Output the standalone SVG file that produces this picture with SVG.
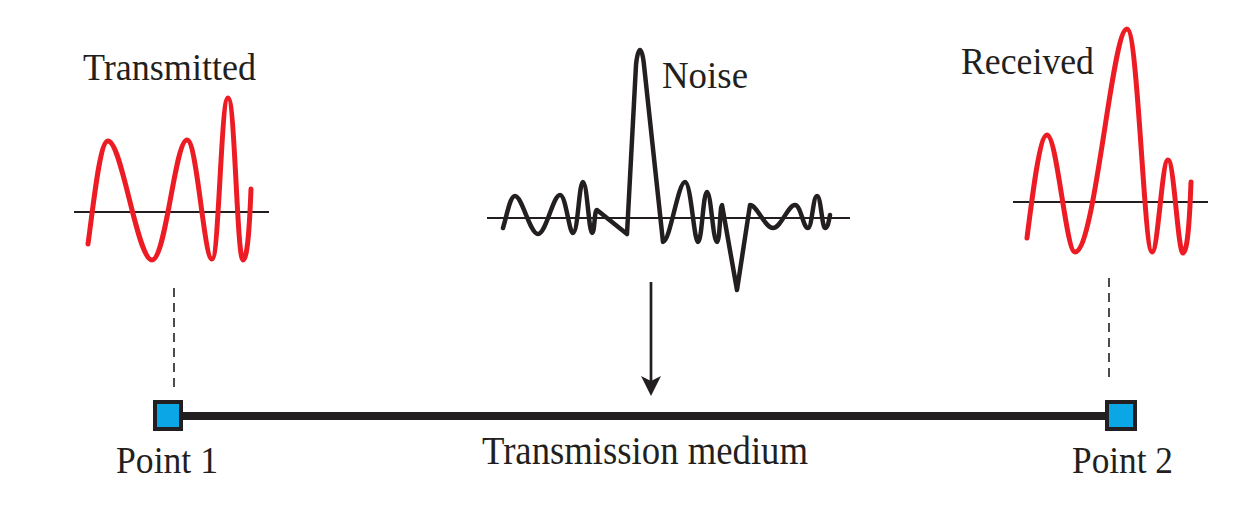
<svg xmlns="http://www.w3.org/2000/svg" width="1235" height="518" viewBox="0 0 1235 518">
<style>
.txt{font-family:"Liberation Serif","Times New Roman",serif;font-size:38px;fill:#231f20}
.big{font-size:40px}
.axis{stroke:#231f20;stroke-width:2;fill:none}
.red{stroke:#ed1c24;stroke-width:5;fill:none;stroke-linecap:round;stroke-linejoin:round}
.noise{stroke:#231f20;stroke-width:4.5;fill:none;stroke-linecap:round;stroke-linejoin:round}
.dash{stroke:#231f20;stroke-width:1.6;stroke-dasharray:9 6;fill:none}
.pt{fill:#0aa6e6;stroke:#231f20;stroke-width:4}
</style>
<defs>
<marker id="ah" markerUnits="userSpaceOnUse" viewBox="0 0 20 20" refX="10" refY="10" markerWidth="20" markerHeight="20" orient="auto">
<path d="M0,0 L20,10 L0,20 L5,10 z" fill="#231f20"/>
</marker>
</defs>
<rect width="1235" height="518" fill="#fff"/>
<g id="connectors">
<line x1="181" y1="416" x2="1107" y2="416" stroke="#231f20" stroke-width="8"/>
<line x1="174" y1="288" x2="174" y2="392" class="dash"/>
<line x1="1109" y1="278" x2="1109" y2="383" class="dash"/>
<line x1="651" y1="282" x2="651" y2="386" stroke="#231f20" stroke-width="2.7" marker-end="url(#ah)"/>
</g>
<g id="transmitted">
<line x1="74" y1="212" x2="269" y2="212" class="axis"/>
<path class="red" d="M88 244 C94 200 100 141 108 141 C122 141 137 260 152 260 C166 260 175 140 187 140 C197 140 204 259 212 259 C219 259 221 98 228 98 C235 98 237 260 243 260 C248 260 250 215 251 189"/>
<text class="txt" x="83" y="80" textLength="173" lengthAdjust="spacingAndGlyphs">Transmitted</text>
</g>
<g id="noise">
<line x1="487" y1="218" x2="850" y2="218" class="axis"/>
<path class="noise" d="M503 228 C507 215 510 196 515 196 C522 196 530 234 538 234 C546 234 553 195 560 195 C566 195 569 233 573 233 C578 233 579 182 583 182 C587 182 589 233 592 233 C595 233 594 210 597 210 L627 234 L636 65 C638 45 642 45 644 65 L663 242 C670 242 678 182 685 182 C691 182 694 242 698 242 C702 242 703 192 707 192 C711 192 713 242 717 242 C720 242 720 205 722 205 L737 290 L750 205 C757 205 765 228 773 228 C781 228 788 205 795 205 C801 205 803 228 808 228 C812 228 813 196 817 196 C821 196 822 228 825 228 C828 228 829 220 830 215"/>
<text class="txt" x="662" y="88" textLength="86" lengthAdjust="spacingAndGlyphs">Noise</text>
</g>
<g id="received">
<line x1="1013" y1="202" x2="1208" y2="202" class="axis"/>
<path class="red" d="M1027 238 C1033 190 1040 135 1047 135 C1057 135 1066 252 1075 252 C1095 252 1112 29 1127 29 C1138 29 1144 252 1152 252 C1158 252 1162 160 1168 160 C1174 160 1178 253 1183 253 C1188 253 1190 210 1191 182"/>
<text class="txt" x="961" y="74" textLength="133" lengthAdjust="spacingAndGlyphs">Received</text>
</g>
<g id="point1">
<rect class="pt" x="155" y="402" width="26" height="27"/>
<text class="txt" x="116" y="473" textLength="102" lengthAdjust="spacingAndGlyphs">Point 1</text>
</g>
<g id="point2">
<rect class="pt" x="1107" y="402" width="28" height="27"/>
<text class="txt" x="1072" y="473" textLength="101" lengthAdjust="spacingAndGlyphs">Point 2</text>
</g>
<g id="medium">
<text class="txt big" x="482" y="464" textLength="326" lengthAdjust="spacingAndGlyphs">Transmission medium</text>
</g>
</svg>
